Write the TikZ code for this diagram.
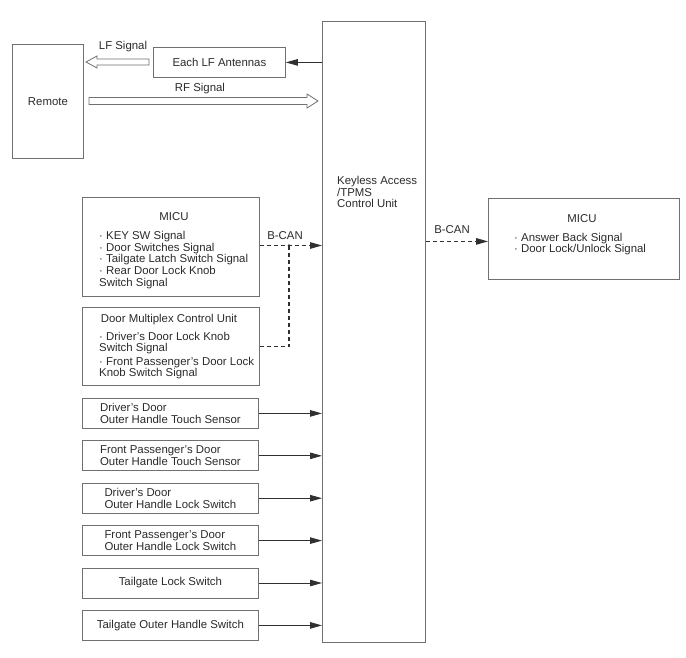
\documentclass[tikz,border=0pt]{standalone}
\usepackage{fontspec}
\setmainfont{Liberation Sans}
\usetikzlibrary{arrows.meta,positioning,calc}
\definecolor{boxgray}{HTML}{707070}
\definecolor{txtgray}{HTML}{2A2A2A}
\definecolor{linegray}{HTML}{303030}
\begin{document}
\begin{tikzpicture}[x=1pt, y=-1pt, font=\fontsize{11.4}{11.7}\selectfont,
  box/.style = {draw=boxgray, line width=0.8pt, inner sep=0pt, text=txtgray, align=left},
  txt/.style = {inner sep=0pt, text=txtgray, align=left},
  sig/.style = {draw=linegray, line width=0.9pt, -{Triangle[length=12pt,width=6.5pt]}},
  bcan/.style = {sig, line width=1.3pt, dash pattern=on 4pt off 3pt},
  hollow/.style = {draw=boxgray, line width=0.8pt, fill=white, line join=miter}]
	\useasboundingbox (0,0) rectangle (686,657);
	\node[box, minimum width=103pt, minimum height=621pt, anchor=north west] (kacu) at (322,21) {};
	\node[txt, anchor=west] at (337,192) {Keyless Access\\/TPMS\\Control Unit};
	\node[box, minimum width=71pt, minimum height=114pt, anchor=north west] (remote) at (12,44) {Remote};
	\node[box, minimum width=132pt, minimum height=30pt, anchor=north west] (ant) at (153,47) {Each LF Antennas};
	\draw[sig] (ant.east -| kacu.west) -- (ant.east);
	\coordinate (lfA) at (149,62);
	\coordinate (lfB) at (86,62);
	\draw[hollow] ($(lfA)+(0,-3)$) -- ($(lfB)+(11,-3)$) -- ($(lfB)+(11,-6)$) -- (lfB)
		-- ($(lfB)+(11,6)$) -- ($(lfB)+(11,3)$) -- ($(lfA)+(0,3)$) -- cycle;
	\node[txt] at (123,47) {LF Signal};
	\coordinate (rfA) at (89,101);
	\coordinate (rfB) at (318,101);
	\draw[hollow] ($(rfA)+(0,-3.5)$) -- ($(rfB)+(-11,-3.5)$) -- ($(rfB)+(-11,-7)$) -- (rfB)
		-- ($(rfB)+(-11,7)$) -- ($(rfB)+(-11,3.5)$) -- ($(rfA)+(0,3.5)$) -- cycle;
	\node[txt] at (200,89) {RF Signal};
	\node[box, minimum width=177pt, minimum height=99pt, anchor=north west] (micuL) at (82,197) {};
	\node[txt] at (174,216.5) {MICU};
	\node[txt, anchor=west] at (99,260) {· KEY SW Signal\\· Door Switches Signal\\· Tailgate Latch Switch Signal\\· Rear Door Lock Knob\\Switch Signal};
	\node[box, minimum width=177pt, minimum height=78pt, anchor=north west] (dmcu) at (82,307) {};
	\node[txt] at (169,320) {Door Multiplex Control Unit};
	\node[txt, anchor=west] at (99,355.5) {· Driver's Door Lock Knob\\Switch Signal\\[1.5pt]· Front Passenger's Door Lock\\Knob Switch Signal};
	\coordinate (jn) at (289,245.5);
	\draw[bcan] (jn -| micuL.east) -- (jn -| kacu.west);
	\draw[bcan, -] (dmcu.east) -- (dmcu.east -| jn) -- (jn);
	\fill[linegray] (jn) circle (1.3pt);
	\node[txt] at (285,236) {B-CAN};
	\node[box, minimum width=191pt, minimum height=81pt, anchor=north west] (micuR) at (488,198) {};
	\node[txt] at (582,219) {MICU};
	\node[txt, anchor=west] at (514,244) {· Answer Back Signal\\· Door Lock/Unlock Signal};
	\coordinate (canR) at ([yshift=-2.5pt]micuR.west);
	\draw[bcan] (canR -| kacu.east) -- (canR);
	\node[txt] at (452,230) {B-CAN};
	\node[box, minimum width=176pt, minimum height=30pt, anchor=north west] (sw1) at (82,398) {Driver's Door\\Outer Handle Touch Sensor};
	\node[box, minimum width=176pt, minimum height=30pt, below=11.6pt of sw1] (sw2) {Front Passenger's Door\\Outer Handle Touch Sensor};
	\node[box, minimum width=176pt, minimum height=30pt, below=11.6pt of sw2] (sw3) {Driver's Door\\Outer Handle Lock Switch};
	\node[box, minimum width=176pt, minimum height=30pt, below=11.6pt of sw3] (sw4) {Front Passenger's Door\\Outer Handle Lock Switch};
	\node[box, minimum width=176pt, minimum height=30pt, below=11.6pt of sw4] (sw5) {Tailgate Lock Switch};
	\node[box, minimum width=176pt, minimum height=30pt, below=11.6pt of sw5] (sw6) {Tailgate Outer Handle Switch};
	\foreach \s in {sw1,sw2,sw3,sw4,sw5,sw6}
		\draw[sig] (\s.east) -- (\s.east -| kacu.west);
\end{tikzpicture}
\end{document}
